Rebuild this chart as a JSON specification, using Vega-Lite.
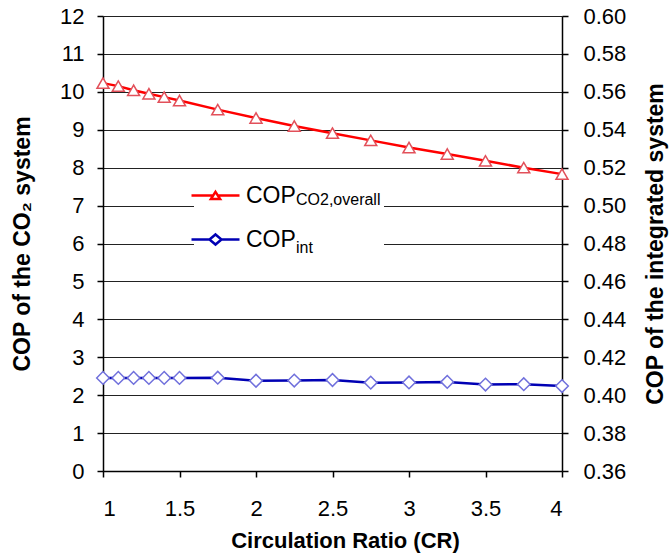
{
  "$schema": "https://vega.github.io/schema/vega-lite/v6.json",
  "width": 459,
  "height": 455,
  "autosize": {"type": "none"},
  "padding": {"left": 103, "top": 16, "right": 107, "bottom": 86},
  "background": "white",
  "config": {
    "view": {"stroke": null},
    "axis": {
      "domainColor": "black", "domainWidth": 1.5,
      "tickColor": "black", "tickWidth": 1.5, "tickSize": 6,
      "labelFont": "Liberation Sans", "labelFontSize": 22, "labelColor": "black",
      "titleFont": "Liberation Sans", "titleFontSize": 22, "titleFontWeight": "bold", "titleColor": "black",
      "grid": false
    }
  },
  "data": {
    "values": [
      {"cr": 1.0, "series": "COP_CO2,overall", "sub": "CO2,overall", "cop": 10.23},
      {"cr": 1.1, "series": "COP_CO2,overall", "sub": "CO2,overall", "cop": 10.15},
      {"cr": 1.2, "series": "COP_CO2,overall", "sub": "CO2,overall", "cop": 10.04},
      {"cr": 1.3, "series": "COP_CO2,overall", "sub": "CO2,overall", "cop": 9.95},
      {"cr": 1.4, "series": "COP_CO2,overall", "sub": "CO2,overall", "cop": 9.86},
      {"cr": 1.5, "series": "COP_CO2,overall", "sub": "CO2,overall", "cop": 9.77},
      {"cr": 1.75, "series": "COP_CO2,overall", "sub": "CO2,overall", "cop": 9.53},
      {"cr": 2.0, "series": "COP_CO2,overall", "sub": "CO2,overall", "cop": 9.31},
      {"cr": 2.25, "series": "COP_CO2,overall", "sub": "CO2,overall", "cop": 9.1},
      {"cr": 2.5, "series": "COP_CO2,overall", "sub": "CO2,overall", "cop": 8.91},
      {"cr": 2.75, "series": "COP_CO2,overall", "sub": "CO2,overall", "cop": 8.72},
      {"cr": 3.0, "series": "COP_CO2,overall", "sub": "CO2,overall", "cop": 8.53},
      {"cr": 3.25, "series": "COP_CO2,overall", "sub": "CO2,overall", "cop": 8.36},
      {"cr": 3.5, "series": "COP_CO2,overall", "sub": "CO2,overall", "cop": 8.18},
      {"cr": 3.75, "series": "COP_CO2,overall", "sub": "CO2,overall", "cop": 8.0},
      {"cr": 4.0, "series": "COP_CO2,overall", "sub": "CO2,overall", "cop": 7.83},
      {"cr": 1.0, "series": "COP_int", "sub": "int", "cop": 0.4091},
      {"cr": 1.1, "series": "COP_int", "sub": "int", "cop": 0.4091},
      {"cr": 1.2, "series": "COP_int", "sub": "int", "cop": 0.4091},
      {"cr": 1.3, "series": "COP_int", "sub": "int", "cop": 0.4091},
      {"cr": 1.4, "series": "COP_int", "sub": "int", "cop": 0.4091},
      {"cr": 1.5, "series": "COP_int", "sub": "int", "cop": 0.4091},
      {"cr": 1.75, "series": "COP_int", "sub": "int", "cop": 0.4092},
      {"cr": 2.0, "series": "COP_int", "sub": "int", "cop": 0.4076},
      {"cr": 2.25, "series": "COP_int", "sub": "int", "cop": 0.4077},
      {"cr": 2.5, "series": "COP_int", "sub": "int", "cop": 0.408},
      {"cr": 2.75, "series": "COP_int", "sub": "int", "cop": 0.4066},
      {"cr": 3.0, "series": "COP_int", "sub": "int", "cop": 0.4067},
      {"cr": 3.25, "series": "COP_int", "sub": "int", "cop": 0.407},
      {"cr": 3.5, "series": "COP_int", "sub": "int", "cop": 0.4056},
      {"cr": 3.75, "series": "COP_int", "sub": "int", "cop": 0.4058},
      {"cr": 4.0, "series": "COP_int", "sub": "int", "cop": 0.4048}
    ]
  },
  "layer": [
    {
      "transform": [{"filter": "datum.series === 'COP_CO2,overall'"}],
      "encoding": {
        "x": {
          "field": "cr", "type": "quantitative",
          "scale": {"domain": [1, 4], "nice": false},
          "axis": {
            "values": [1, 1.5, 2, 2.5, 3, 3.5, 4], "format": "~g",
            "labelPadding": 21, "title": "Circulation Ratio (CR)",
            "titleX": 242, "titleY": 69, "titleAlign": "center", "titleBaseline": "middle"
          }
        },
        "y": {
          "field": "cop", "type": "quantitative",
          "scale": {"domain": [0, 12], "nice": false},
          "axis": {
            "orient": "left", "values": [0, 1, 2, 3, 4, 5, 6, 7, 8, 9, 10, 11, 12],
            "grid": true, "gridColor": "#222222", "gridWidth": 1,
            "labelPadding": 13, "title": "COP of the CO₂ system", "titleFontSize": 23,
            "titleAngle": 270, "titleX": -81, "titleY": 227.5, "titleAlign": "center", "titleBaseline": "middle"
          }
        }
      },
      "layer": [
        {
          "mark": {"type": "line", "strokeWidth": 2.5},
          "encoding": {
            "color": {
              "field": "series", "type": "nominal",
              "scale": {"domain": ["COP_CO2,overall", "COP_int"], "range": ["#FF0000", "#0000B4"]},
              "legend": {
                "orient": "none", "legendX": 174, "legendY": 173, "padding": 3,
                "fillColor": "white", "title": null,
                "symbolSize": 1, "symbolStrokeWidth": 0, "symbolOpacity": 0,
                "labelFont": "Liberation Sans", "labelFontSize": 16, "labelColor": "black", "labelOffset": 0,
                "labelExpr": "datum.value === 'COP_CO2,overall' ? 'CO2,overall' : 'int'",
                "rowPadding": 32,
                "encode": {"symbols": {"update": {"opacity": {"value": 0}}}}
              }
            },
            "opacity": {
              "field": "sub", "type": "nominal",
              "scale": {"range": [1, 1]},
              "legend": {
                "orient": "none", "legendX": 91, "legendY": 158, "padding": 0,
                "fillColor": "white", "title": null,
                "symbolSize": 1600, "symbolStrokeWidth": 2.5, "symbolType": "stroke",
                "labelFont": "Liberation Sans", "labelFontSize": 23, "labelColor": "black", "labelOffset": 9,
                "labelExpr": "'COP'",
                "rowPadding": 10,
                "encode": {
                  "symbols": {
                    "update": {
                      "opacity": {"value": 1},
                      "stroke": {"signal": "datum.value === 'CO2,overall' ? '#FF0000' : '#0000B4'"},
                      "shape": {"signal": "datum.value === 'CO2,overall' ? 'M-1.2,0H-0.12M0.12,0H1.2M0,-0.18L0.23,0.18L-0.23,0.18Z' : 'M-1.2,0H-0.3M0.3,0H1.2M0,-0.25L0.3,0L0,0.25L-0.3,0Z'"}
                    }
                  }
                }
              }
            }
          }
        },
        {
          "mark": {"type": "point", "shape": "triangle-up", "filled": true, "fill": "white", "stroke": "#E2505A", "strokeWidth": 1.5, "size": 144, "opacity": 1}
        }
      ]
    },
    {
      "transform": [{"filter": "datum.series === 'COP_int'"}],
      "encoding": {
        "x": {"field": "cr", "type": "quantitative"},
        "y": {
          "field": "cop", "type": "quantitative",
          "scale": {"domain": [0.36, 0.6], "nice": false, "zero": false},
          "axis": {
            "orient": "right", "values": [0.36, 0.38, 0.4, 0.42, 0.44, 0.46, 0.48, 0.5, 0.52, 0.54, 0.56, 0.58, 0.6],
            "format": ".2f", "grid": false, "labelPadding": 15,
            "title": "COP of the integrated system", "titleFontSize": 23,
            "titleAngle": 270, "titleX": 93, "titleY": 227.5, "titleAlign": "center", "titleBaseline": "middle"
          }
        }
      },
      "layer": [
        {
          "mark": {"type": "line", "strokeWidth": 2.5},
          "encoding": {
            "color": {"field": "series", "type": "nominal"},
            "opacity": {"field": "sub", "type": "nominal"}
          }
        },
        {
          "mark": {"type": "point", "shape": "diamond", "filled": true, "fill": "white", "stroke": "#7070DC", "strokeWidth": 1.5, "size": 160, "opacity": 1}
        }
      ]
    }
  ],
  "resolve": {"scale": {"y": "independent"}}
}
